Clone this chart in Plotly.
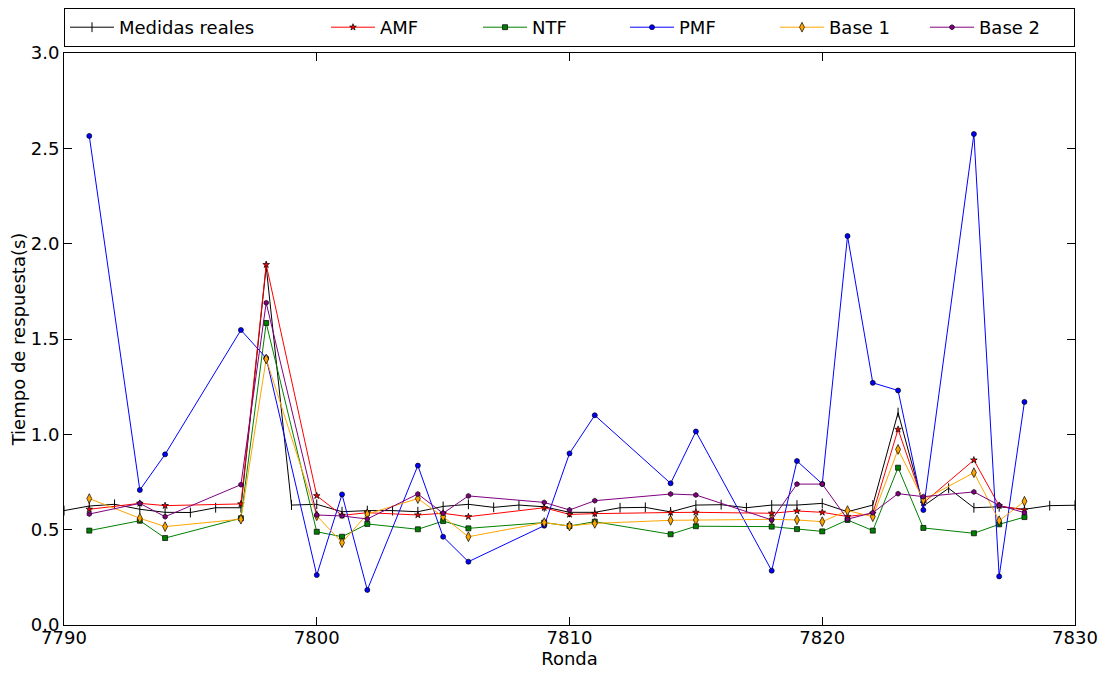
import plotly.graph_objects as go

# Medidas reales: every round
rondas_reales = list(range(7790, 7831))
medidas_reales = [0.600, 0.624, 0.633, 0.607, 0.591, 0.590, 0.615, 0.615, 1.880, 0.629,
                  0.633, 0.594, 0.600, 0.600, 0.594, 0.622, 0.633, 0.617, 0.629, 0.620,
                  0.591, 0.591, 0.615, 0.617, 0.593, 0.629, 0.631, 0.615, 0.629, 0.629,
                  0.638, 0.594, 0.629, 1.114, 0.624, 0.717, 0.615, 0.620, 0.607, 0.626,
                  0.628]

# Rounds with predictions
rondas = [7791, 7793, 7794, 7797, 7798, 7800, 7801, 7802, 7804, 7805, 7806, 7809, 7810,
          7811, 7814, 7815, 7818, 7819, 7820, 7821, 7822, 7823, 7824, 7826, 7827, 7828]

amf = [0.607, 0.638, 0.626, 0.635, 1.890, 0.678, 0.575, 0.589, 0.577, 0.586, 0.568, 0.615, 0.580,
       0.584, 0.590, 0.591, 0.586, 0.598, 0.591, 0.569, 0.585, 1.026, 0.640, 0.865, 0.625, 0.603]
ntf = [0.495, 0.547, 0.456, 0.560, 1.584, 0.489, 0.463, 0.530, 0.502, 0.545, 0.507, 0.537, 0.519,
       0.542, 0.476, 0.518, 0.516, 0.503, 0.491, 0.551, 0.495, 0.825, 0.509, 0.481, 0.528, 0.566]
pmf = [2.565, 0.708, 0.895, 1.547, 1.400, 0.262, 0.685, 0.184, 0.836, 0.463, 0.332, 0.521, 0.900,
       1.100, 0.743, 1.015, 0.285, 0.860, 0.740, 2.040, 1.270, 1.230, 0.603, 2.575, 0.255, 1.170]
base1 = [0.663, 0.560, 0.516, 0.555, 1.395, 0.573, 0.432, 0.582, 0.663, 0.568, 0.463, 0.537, 0.519,
         0.533, 0.549, 0.551, 0.554, 0.551, 0.542, 0.600, 0.568, 0.921, 0.656, 0.799, 0.547, 0.649]
base2 = [0.582, 0.638, 0.568, 0.736, 1.690, 0.577, 0.572, 0.556, 0.687, 0.586, 0.677, 0.643, 0.603,
         0.652, 0.687, 0.682, 0.551, 0.739, 0.739, 0.555, 0.589, 0.689, 0.673, 0.698, 0.628, 0.589]

x_ticks = [7790, 7800, 7810, 7820, 7830]
y_ticks = [0.0, 0.5, 1.0, 1.5, 2.0, 2.5, 3.0]

FONT = "DejaVu Sans"

fig = go.Figure()

fig.add_trace(go.Scatter(
    x=rondas_reales, y=medidas_reales, name="Medidas reales", mode="lines+markers",
    line=dict(color="black", width=1),
    marker=dict(symbol="line-ns", size=7, color="black", line=dict(color="black", width=1)),
    legendwidth=202,
))

series = [
    ("AMF", amf, "#ff0000", "star", 5, 93),
    ("NTF", ntf, "#008000", "square", 5, 88),
    ("PMF", pmf, "#0000ff", "circle", 5, 91),
    ("Base 1", base1, "#ffa500", "diamond-tall", 7, 91),
    ("Base 2", base2, "#800080", "hexagon", 5, 90),
]
for name, vals, col, sym, size, lw in series:
    fig.add_trace(go.Scatter(
        x=rondas, y=vals, name=name, mode="lines+markers",
        line=dict(color=col, width=1),
        marker=dict(symbol=sym, size=size, color=col, line=dict(color="black", width=0.7)),
        legendwidth=lw,
    ))

axis_common = dict(
    showline=True, linecolor="black", linewidth=1, mirror="allticks",
    ticks="inside", ticklen=8, tickwidth=1, tickcolor="black",
    showgrid=False, zeroline=False, automargin=False,
    tickfont=dict(family=FONT, size=18, color="black"),
)

fig.update_xaxes(range=[7790, 7830], tickvals=x_ticks, tickformat="d",
                 ticklabelstandoff=-4,
                 title=dict(text="Ronda", font=dict(family=FONT, size=18, color="black"), standoff=2),
                 **axis_common)
fig.update_yaxes(range=[0, 3], tickvals=y_ticks, tickformat=".1f",
                 title=dict(text="Tiempo de respuesta(s)", font=dict(family=FONT, size=18, color="black"), standoff=0),
                 **axis_common)

fig.update_layout(
    width=1107, height=673,
    margin=dict(l=64, r=32, t=53, b=48),
    paper_bgcolor="white", plot_bgcolor="white",
    font=dict(family=FONT, size=18, color="black"),
    legend=dict(
        orientation="h", xref="container", yref="container",
        x=64 / 1107, xanchor="left", y=1 - 8 / 673, yanchor="top",
        bordercolor="black", borderwidth=1, bgcolor="white",
        itemwidth=44, font=dict(family=FONT, size=18, color="black"),
    ),
    showlegend=True,
)

fig.write_html("out.html")
